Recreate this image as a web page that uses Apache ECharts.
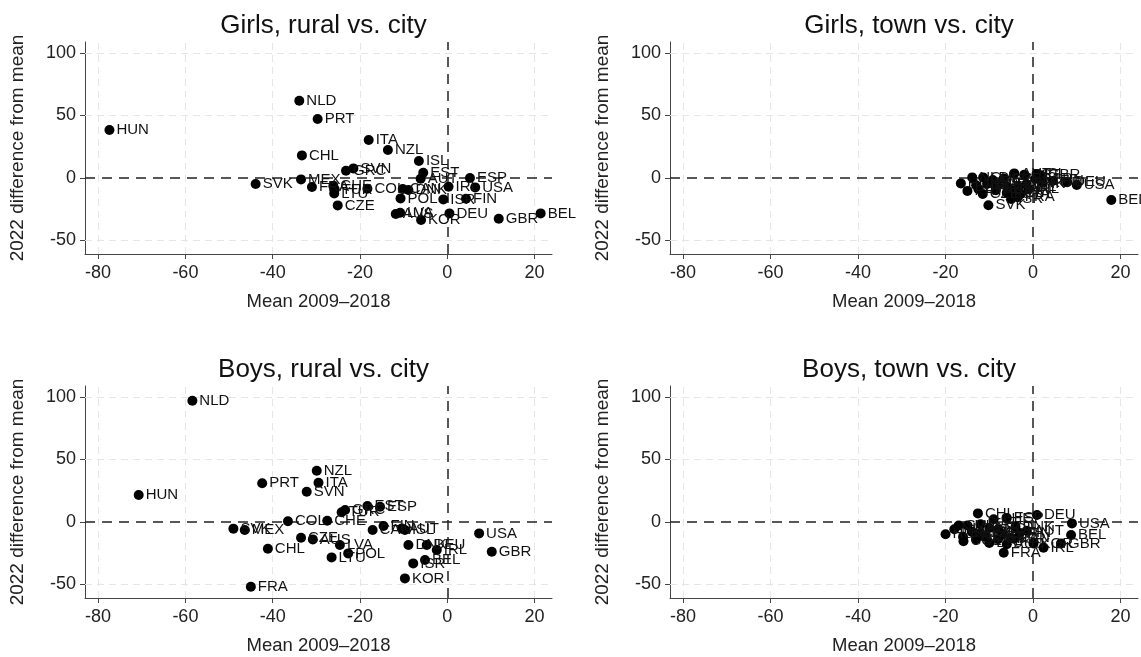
<!DOCTYPE html>
<html>
<head>
<meta charset="utf-8">
<script src="https://cdn.jsdelivr.net/npm/echarts@6/dist/echarts.min.js"></script>
<style>
html,body{margin:0;padding:0;background:#fff;}
#chart{width:1141px;height:657px;}
</style>
</head>
<body>
<div id="chart"></div>
<script>
// ---- tick labels ----
const xTicks = [-80, -60, -40, -20, 0, 20];
const yTicks = [-50, 0, 50, 100];

// ---- panel titles ----
const panelTitles = ['Girls, rural vs. city', 'Girls, town vs. city', 'Boys, rural vs. city', 'Boys, town vs. city'];
const xAxisTitle = 'Mean 2009\u20132018';
const yAxisTitle = '2022 difference from mean';

// ---- Girls, rural vs. city ----
const girlsRuralCodes = ['HUN','NLD','PRT','ITA','NZL','CHL','ISL','SVN','GRC','EST','AUT','ESP','MEX','SVK','FRA','CHE','TUR','LTU','COL','DNK','CAN','POL','IRL','USA','ISR','FIN','CZE','AUS','LVA','KOR','DEU','GBR','BEL'];
const girlsRuralX = [-77.4,-33.9,-29.7,-18.0,-13.6,-33.3,-6.5,-21.5,-23.2,-5.5,-6.1,5.2,-33.5,-43.9,-31.0,-26.1,-25.8,-25.9,-18.3,-8.9,-10.2,-10.7,0.3,6.4,-0.9,4.3,-25.1,-11.8,-10.8,-6.0,0.5,11.8,21.4];
const girlsRuralY = [38.2,61.6,47.0,30.2,22.2,17.9,13.4,7.5,5.6,4.0,-0.8,-0.2,-1.3,-5.0,-7.4,-6.6,-9.3,-12.5,-8.8,-9.8,-9.0,-16.5,-7.2,-7.7,-17.3,-16.8,-22.1,-29.0,-28.0,-33.8,-28.5,-32.8,-28.5];

// ---- Girls, town vs. city ----
const girlsTownCodes = ['HUN','NLD','PRT','CHL','LVA','NZL','CZE','LTU','SVK','MEX','GRC','SVN','AUS','POL','CHE','CAN','ISR','AUT','FRA','COL','ITA','EST','DNK','IRL','ESP','ISL','GBR','KOR','FIN','DEU','USA','BEL'];
const girlsTownX = [-16.5,-13.9,-15.0,-11.4,-10.5,-13.0,-11.5,-12.5,-10.2,-9.2,-8.0,-6.7,-8.5,-6.0,-5.9,-4.8,-5.0,-4.3,-3.5,-3.3,-2.8,-2.0,-1.5,-1.0,0.5,0.8,1.8,2.2,4.5,7.8,10.0,17.9];
const girlsTownY = [-4.5,0.3,-10.5,0.3,-5.0,-6.0,-13.0,-9.0,-22.0,-1.8,-6.0,-0.5,-10.0,-12.0,-7.2,-10.0,-17.0,3.5,-15.5,-7.2,-13.0,2.5,-5.0,-9.0,-1.0,3.0,2.0,-4.0,-2.5,-3.5,-5.8,-17.8];

// ---- Boys, rural vs. city ----
const boysRuralCodes = ['NLD','HUN','PRT','NZL','ITA','SVN','SVK','MEX','COL','CHE','CHL','FRA','CZE','AUS','LVA','POL','LTU','GRC','TUR','EST','ESP','CAN','FIN','AUT','ISL','DNK','DEU','IRL','BEL','ISR','KOR','USA','GBR'];
const boysRuralX = [-58.4,-70.7,-42.4,-29.9,-29.5,-32.2,-49.0,-46.4,-36.5,-27.5,-41.1,-45.0,-33.5,-30.8,-24.6,-22.7,-26.5,-23.4,-24.2,-18.3,-15.4,-17.1,-14.6,-10.4,-9.7,-8.9,-4.7,-2.4,-5.1,-7.8,-9.7,7.3,10.2];
const boysRuralY = [96.8,21.4,30.8,40.8,31.2,24.0,-5.5,-6.6,0.4,0.8,-21.6,-52.0,-12.8,-14.1,-18.6,-25.3,-28.5,9.4,7.6,12.6,12.0,-6.6,-3.4,-5.3,-6.6,-18.6,-18.6,-22.6,-30.6,-33.3,-45.3,-9.3,-24.0];

// ---- Boys, town vs. city ----
const boysTownCodes = ['HUN','NLD','LVA','PRT','SVK','COL','MEX','SVN','CHL','CZE','ITA','ISL','LTU','NZL','CHE','GRC','POL','EST','FRA','ESP','AUS','CAN','ISR','DNK','FIN','AUT','KOR','DEU','IRL','GBR','BEL','USA'];
const boysTownX = [-20.0,-18.0,-15.0,-16.0,-17.0,-15.9,-14.0,-13.0,-12.6,-12.0,-12.0,-11.0,-10.0,-10.0,-9.0,-8.0,-8.0,-7.0,-6.7,-6.0,-6.0,-5.0,-4.4,-4.0,-3.0,-1.4,0.1,0.9,2.4,6.4,8.7,8.9];
const boysTownY = [-10.0,-6.0,-3.0,-12.0,-3.0,-15.5,-8.0,-14.0,6.7,-9.0,-2.0,-12.0,-17.0,-5.0,2.0,-14.0,-6.0,-10.0,-24.8,3.0,-18.0,-13.0,-13.5,-4.0,-9.0,-7.2,-17.3,5.4,-20.8,-17.3,-10.6,-1.3];

const panels = [
  {codes: girlsRuralCodes, xs: girlsRuralX, ys: girlsRuralY},
  {codes: girlsTownCodes, xs: girlsTownX, ys: girlsTownY},
  {codes: boysRuralCodes, xs: boysRuralX, ys: boysRuralY},
  {codes: boysTownCodes, xs: boysTownX, ys: boysTownY}
];

const FONT = '"Liberation Sans", Arial, Helvetica, sans-serif';
const gridPos = [
  {left: 85, top: 42, width: 467, height: 212},
  {left: 670, top: 42, width: 468, height: 212},
  {left: 85, top: 386, width: 467, height: 212},
  {left: 670, top: 386, width: 468, height: 212}
];

const grids = [], xAxes = [], yAxes = [], series = [], titles = [];
panels.forEach((p, i) => {
  const g = gridPos[i];
  grids.push({left: g.left, top: g.top, width: g.width, height: g.height, containLabel: false});
  titles.push({
    text: panelTitles[i],
    left: g.left + g.width / 2,
    top: g.top - 34,
    textAlign: 'center',
    textStyle: {fontFamily: FONT, fontSize: 26, fontWeight: 'normal', color: '#111'}
  });
  xAxes.push({
    type: 'value', gridIndex: i, min: -83, max: 24,
    name: xAxisTitle, nameLocation: 'middle', nameGap: 38,
    nameTextStyle: {fontFamily: FONT, fontSize: 18.5, color: '#222'},
    axisLine: {show: true, onZero: false, lineStyle: {color: '#444', width: 1}},
    axisTick: {show: true, length: 5, customValues: xTicks, lineStyle: {color: '#444'}},
    axisLabel: {customValues: xTicks, fontFamily: FONT, fontSize: 18, color: '#222', margin: 10},
    splitLine: {show: false}
  });
  yAxes.push({
    type: 'value', gridIndex: i, min: -61, max: 108.6,
    name: yAxisTitle, nameLocation: 'middle', nameGap: 58, nameRotate: 90,
    nameTextStyle: {fontFamily: FONT, fontSize: 19, color: '#222'},
    axisLine: {show: true, onZero: false, lineStyle: {color: '#444', width: 1}},
    axisTick: {show: true, length: 5, customValues: yTicks, lineStyle: {color: '#444'}},
    axisLabel: {customValues: yTicks, fontFamily: FONT, fontSize: 18, color: '#222', margin: 9},
    splitLine: {show: false}
  });
  const gridStyle = {color: '#e6e6e6', type: [7, 5], width: 1};
  const refStyle = {color: '#222', type: [10, 7], width: 1.5};
  const mlData = [];
  xTicks.forEach(v => { if (v !== 0) mlData.push({xAxis: v, lineStyle: gridStyle}); });
  yTicks.forEach(v => { if (v !== 0) mlData.push({yAxis: v, lineStyle: gridStyle}); });
  mlData.push({yAxis: 0, lineStyle: refStyle});
  mlData.push({xAxis: 0, lineStyle: refStyle});
  // reference / grid lines (drawn beneath the points)
  series.push({
    type: 'scatter', xAxisIndex: i, yAxisIndex: i, data: [], z: 1, silent: true,
    markLine: {
      silent: true, symbol: 'none', animation: false,
      label: {show: false},
      data: mlData
    }
  });
  series.push({
    type: 'scatter', xAxisIndex: i, yAxisIndex: i,
    symbol: 'circle', symbolSize: 10,
    itemStyle: {color: '#000', opacity: 1},
    data: p.codes.map((c, k) => ({value: [p.xs[k], p.ys[k]], name: c})),
    label: {
      show: true, position: 'right', distance: 2, offset: [0, 2],
      formatter: '{b}', fontFamily: FONT, fontSize: 15, color: '#111'
    },
    labelLayout: {hideOverlap: false},
    emphasis: {disabled: true},
    z: 5
  });
});

const chart = echarts.init(document.getElementById('chart'), null, {renderer: 'canvas'});
chart.setOption({
  animation: false,
  backgroundColor: '#fff',
  title: titles,
  grid: grids,
  xAxis: xAxes,
  yAxis: yAxes,
  series: series
});
</script>
</body>
</html>
